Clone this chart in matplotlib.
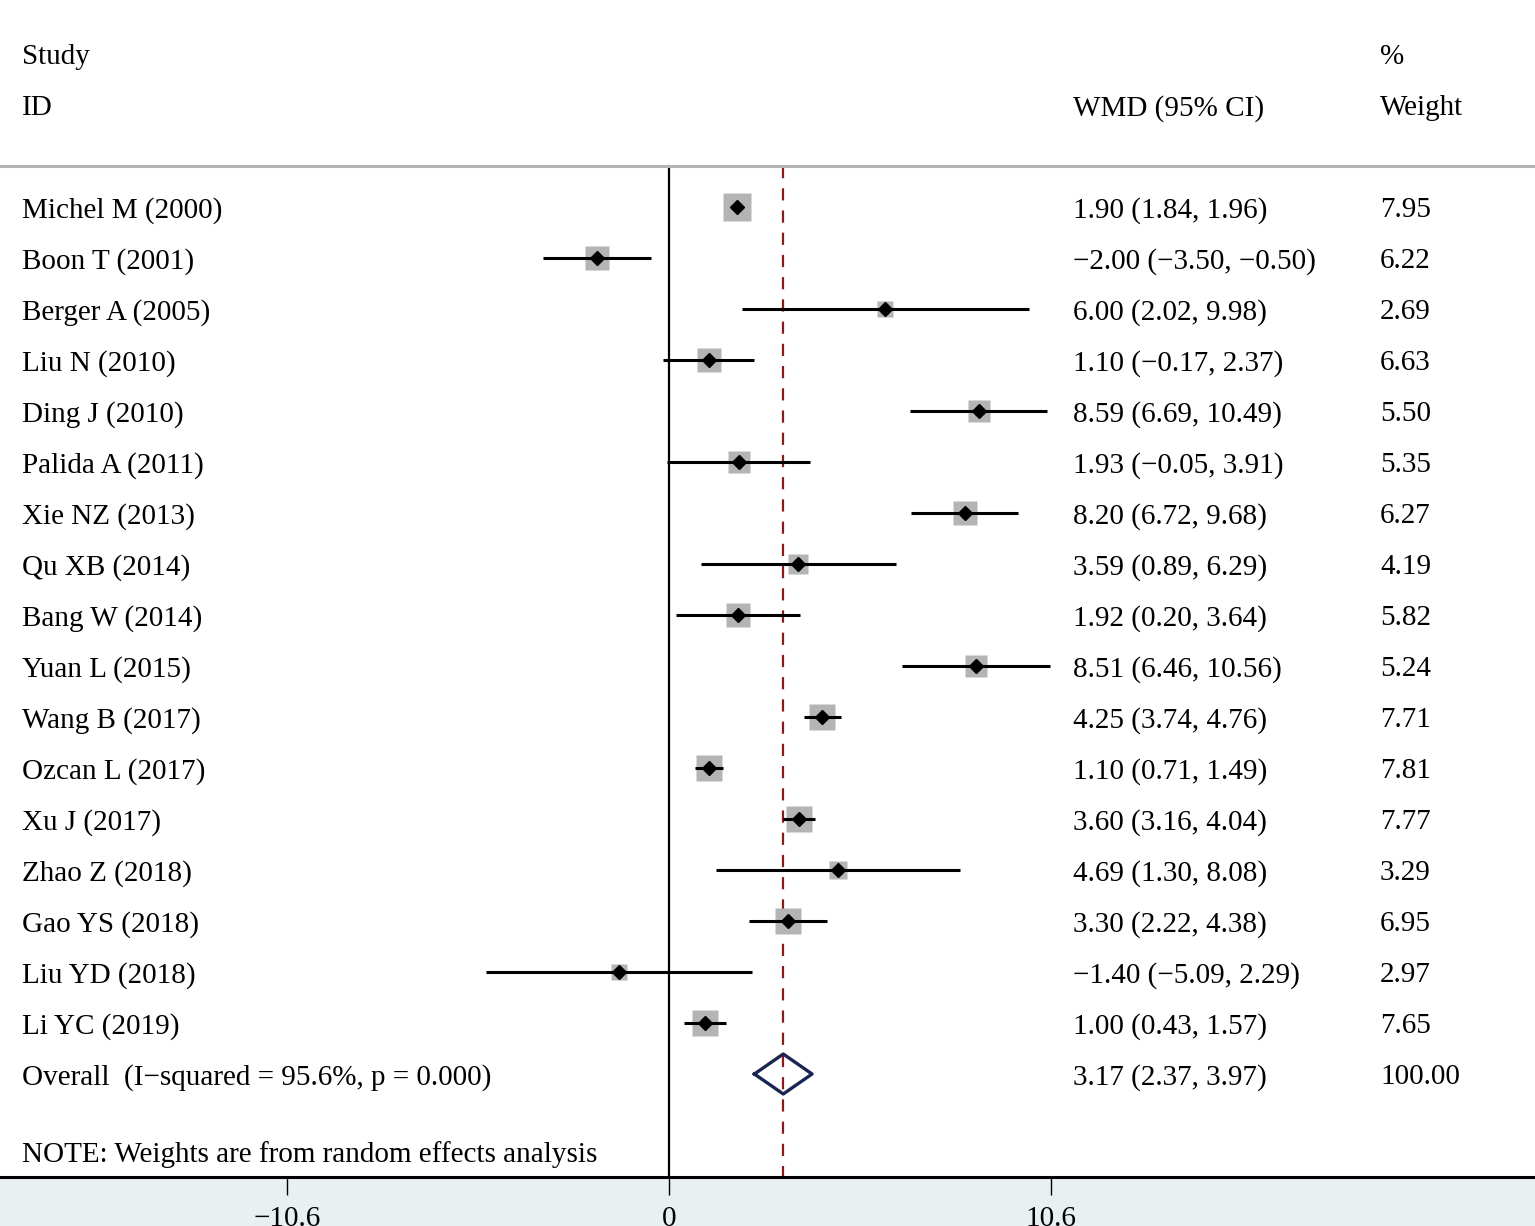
import numpy as np
import matplotlib
matplotlib.use('Agg')
import matplotlib.pyplot as plt
from matplotlib.transforms import blended_transform_factory

plt.rcParams['font.family'] = ['Liberation Serif', 'DejaVu Serif']

studies = ['Michel M (2000)', 'Boon T (2001)', 'Berger A (2005)', 'Liu N (2010)',
           'Ding J (2010)', 'Palida A (2011)', 'Xie NZ (2013)', 'Qu XB (2014)',
           'Bang W (2014)', 'Yuan L (2015)', 'Wang B (2017)', 'Ozcan L (2017)',
           'Xu J (2017)', 'Zhao Z (2018)', 'Gao YS (2018)', 'Liu YD (2018)',
           'Li YC (2019)']
wmd = [1.90, -2.00, 6.00, 1.10, 8.59, 1.93, 8.20, 3.59, 1.92, 8.51, 4.25, 1.10,
       3.60, 4.69, 3.30, -1.40, 1.00]
ci_lo = [1.84, -3.50, 2.02, -0.17, 6.69, -0.05, 6.72, 0.89, 0.20, 6.46, 3.74, 0.71,
         3.16, 1.30, 2.22, -5.09, 0.43]
ci_hi = [1.96, -0.50, 9.98, 2.37, 10.49, 3.91, 9.68, 6.29, 3.64, 10.56, 4.76, 1.49,
         4.04, 8.08, 4.38, 2.29, 1.57]
weights = [7.95, 6.22, 2.69, 6.63, 5.50, 5.35, 6.27, 4.19, 5.82, 5.24, 7.71, 7.81,
           7.77, 3.29, 6.95, 2.97, 7.65]
overall = 3.17
overall_lo = 2.37
overall_hi = 3.97
overall_label = 'Overall  (I\u2212squared = 95.6%, p = 0.000)'
xticks = [-10.6, 0, 10.6]


def fmt(v):
    return ('%.2f' % v).replace('-', '\u2212')


W, H = 1535, 1226
fig = plt.figure(figsize=(W / 100, H / 100), dpi=100, facecolor='#e8f0f2')
# axes covers from top of figure down to the x axis line (pixel 1177)
ax = fig.add_axes([0, (H - 1177) / H, 1, 1177 / H])
ax.set_facecolor('white')

px_per_unit = (1051 - 669) / 10.6
ax.set_xlim(-669 / px_per_unit, (W - 669) / px_per_unit)
row0, row_h = 156, 51
ax.set_ylim((1177 - row0) / row_h, -row0 / row_h)

fs = 21
y_rows = np.arange(1, len(studies) + 1)
y_over = len(studies) + 1
y_line = (166 - row0) / row_h

# reference lines
ax.plot([0, 0], [y_line, ax.get_ylim()[0]], color='black', lw=1.6, zorder=1)
ax.plot([overall, overall], [y_line, ax.get_ylim()[0]], color='#8b1a1a', lw=1.6,
        dashes=(5.5, 4.5), zorder=1)
ax.axhline(y_line, color='#b3b3b3', lw=2.2, zorder=1)

# study estimates
for i in range(len(studies)):
    ax.plot([ci_lo[i], ci_hi[i]], [y_rows[i], y_rows[i]], color='black', lw=2.2,
            solid_capstyle='butt', zorder=3)
    ax.plot(wmd[i], y_rows[i], marker='s', ms=6.9 * np.sqrt(weights[i]),
            color='#b4b4b4', mec='none', zorder=2)
    ax.plot(wmd[i], y_rows[i], marker='D', ms=7.5, color='black', zorder=4)

# overall diamond
dh = 20 / row_h
ax.plot([overall_lo, overall, overall_hi, overall, overall_lo],
        [y_over, y_over - dh, y_over, y_over + dh, y_over],
        color='#1c2552', lw=2.4, zorder=4)

# text columns
tr = blended_transform_factory(fig.transFigure, ax.transData)
x_id, x_ci, x_w = 22 / W, 1073 / W, 1380 / W
kw = dict(transform=tr, fontsize=fs, va='center_baseline', ha='left')
ax.text(x_id, (54 - row0) / row_h, 'Study', **kw)
ax.text(x_id, (105 - row0) / row_h, 'ID', **kw)
ax.text(x_ci, (105 - row0) / row_h, 'WMD (95% CI)', **kw)
ax.text(x_w, (54 - row0) / row_h, '%', **kw)
ax.text(x_w, (105 - row0) / row_h, 'Weight', **kw)
for i in range(len(studies)):
    ax.text(x_id, y_rows[i], studies[i], **kw)
    ax.text(x_ci, y_rows[i], '%s (%s, %s)' % (fmt(wmd[i]), fmt(ci_lo[i]), fmt(ci_hi[i])), **kw)
    ax.text(x_w, y_rows[i], '%.2f' % weights[i], **kw)
ax.text(x_id, y_over, overall_label, **kw)
ax.text(x_ci, y_over, '%s (%s, %s)' % (fmt(overall), fmt(overall_lo), fmt(overall_hi)), **kw)
ax.text(x_w, y_over, '100.00', **kw)
ax.text(x_id, (1152 - row0) / row_h, 'NOTE: Weights are from random effects analysis', **kw)

# axis
for s in ['top', 'left', 'right']:
    ax.spines[s].set_visible(False)
ax.spines['bottom'].set_linewidth(2.2)
ax.set_yticks([])
ax.set_xticks(xticks)
ax.set_xticklabels(['\u221210.6', '0', '10.6'])
ax.tick_params(axis='x', direction='out', length=13, width=1.0, pad=8, labelsize=fs)

fig.savefig('out.png', dpi=100, facecolor=fig.get_facecolor())
